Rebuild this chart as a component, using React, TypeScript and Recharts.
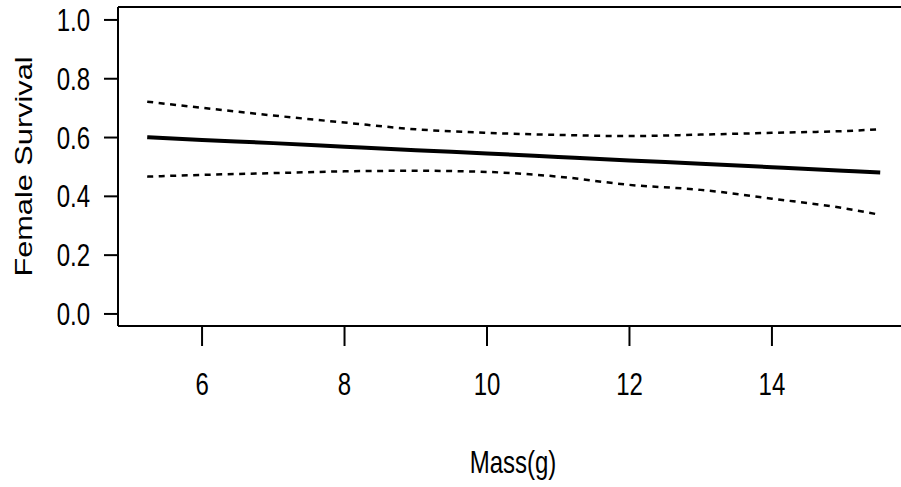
import { LineChart, Line, XAxis, YAxis, ReferenceLine } from "recharts";

// values
const mass = [5.23, 6, 7, 8, 9, 10, 11, 12, 13, 14, 15, 15.52];
const fit = [0.601, 0.592, 0.581, 0.569, 0.557, 0.546, 0.534, 0.522, 0.511, 0.499, 0.487, 0.481];
const upper = [0.722, 0.701, 0.675, 0.651, 0.628, 0.616, 0.609, 0.605, 0.61, 0.616, 0.622, 0.628];
const lower = [0.467, 0.473, 0.479, 0.485, 0.487, 0.483, 0.467, 0.439, 0.422, 0.392, 0.36, 0.337];

const xTicks = [6, 8, 10, 12, 14];
const yTicks = [0, 0.2, 0.4, 0.6, 0.8, 1.0];

const xDomain: [number, number] = [4.82, 15.91];
const yDomain: [number, number] = [-0.041, 1.044];

const data = mass.map((m, i) => ({ mass: m, fit: fit[i], upper: upper[i], lower: lower[i] }));

const FONT = "'Liberation Sans', Arial, Helvetica, sans-serif";
const STRETCH = 1.28;

function XTick(props: any) {
  const { x, payload } = props;
  return (
    <text
      transform={`translate(${x}, 395) scale(1, ${STRETCH})`}
      textAnchor="middle"
      fontSize={24}
      fontFamily={FONT}
      fill="#000"
    >
      {payload.value}
    </text>
  );
}

function YTick(props: any) {
  const { y, payload } = props;
  return (
    <text
      transform={`translate(90, ${y}) scale(1, ${STRETCH})`}
      textAnchor="end"
      dy="0.36em"
      fontSize={24}
      fontFamily={FONT}
      fill="#000"
    >
      {Number(payload.value).toFixed(1)}
    </text>
  );
}

export default function App() {
  return (
    <div style={{ position: "absolute", left: 0, top: 0, width: 901, height: 487, background: "#fff" }}>
      <LineChart width={901} height={487} data={data} margin={{ top: 7, right: -7, bottom: 0, left: 0 }}>
        <XAxis
          dataKey="mass"
          type="number"
          domain={xDomain}
          ticks={xTicks}
          allowDataOverflow
          height={161}
          axisLine={{ stroke: "#000", strokeWidth: 2 }}
          tickSize={20}
          tickLine={{ stroke: "#000", strokeWidth: 2 }}
          tick={<XTick />}
        />
        <YAxis
          type="number"
          domain={yDomain}
          ticks={yTicks}
          allowDataOverflow
          width={118}
          axisLine={false}
          tickSize={14}
          tickLine={{ stroke: "#000", strokeWidth: 2 }}
          tick={<YTick />}
        />
        <ReferenceLine y={yDomain[1]} stroke="#000" strokeWidth={2} ifOverflow="visible" />
        <ReferenceLine x={xDomain[0]} stroke="#000" strokeWidth={2} ifOverflow="visible" />
        <Line type="monotone" dataKey="upper" stroke="#000" strokeWidth={2.5} strokeDasharray="6 5.5" dot={false} isAnimationActive={false} />
        <Line type="monotone" dataKey="lower" stroke="#000" strokeWidth={2.5} strokeDasharray="6 5.5" dot={false} isAnimationActive={false} />
        <Line type="monotone" dataKey="fit" stroke="#000" strokeWidth={4} dot={false} isAnimationActive={false} />
      </LineChart>
      {/* axis titles */}
      <svg width={901} height={487} style={{ position: "absolute", left: 0, top: 0, pointerEvents: "none" }}>
        <text
          transform={`translate(513, 473) scale(1, ${STRETCH})`}
          textAnchor="middle"
          fontSize={24}
          fontFamily={FONT}
          fill="#000"
        >
          Mass(g)
        </text>
        <text
          transform={`translate(31.5, 166.5) rotate(-90) scale(${STRETCH}, 1)`}
          textAnchor="middle"
          fontSize={24}
          fontFamily={FONT}
          fill="#000"
        >
          Female Survival
        </text>
      </svg>
    </div>
  );
}
